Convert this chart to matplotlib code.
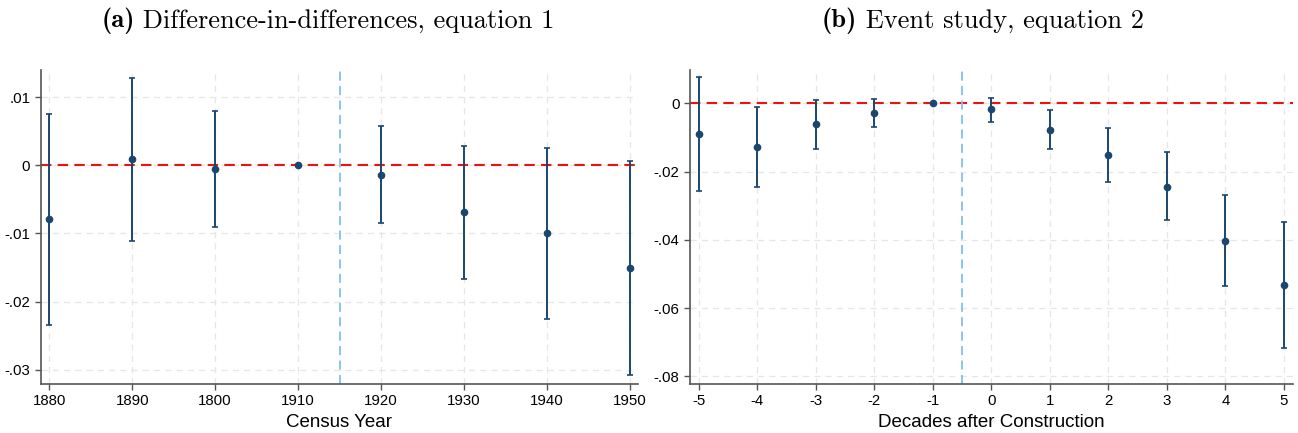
import matplotlib
matplotlib.use("Agg")
import matplotlib.pyplot as plt
import numpy as np

# ---------------- data ----------------
# Panel (a): difference-in-differences
a_labels = ["1880", "1890", "1800", "1910", "1920", "1930", "1940", "1950"]
a_coef = [-0.0079, 0.0009, -0.0006, 0.0, -0.0014, -0.0069, -0.0100, -0.0151]
a_hi = [0.0075, 0.0129, 0.0080, 0.0, 0.0058, 0.0028, 0.0026, 0.0006]
a_lo = [-0.0234, -0.0111, -0.0091, 0.0, -0.0085, -0.0167, -0.0226, -0.0308]
a_yticks = [0.01, 0.0, -0.01, -0.02, -0.03]
a_yticklabels = [".01", "0", "-.01", "-.02", "-.03"]

# Panel (b): event study
b_x = [-5, -4, -3, -2, -1, 0, 1, 2, 3, 4, 5]
b_coef = [-0.0090, -0.0129, -0.0060, -0.0028, 0.0, -0.0018, -0.0078, -0.0151, -0.0244, -0.0403, -0.0533]
b_hi = [0.0076, -0.0012, 0.0011, 0.0013, 0.0, 0.0017, -0.0020, -0.0073, -0.0144, -0.0269, -0.0349]
b_lo = [-0.0256, -0.0246, -0.0133, -0.0070, 0.0, -0.0054, -0.0135, -0.0229, -0.0343, -0.0536, -0.0716]
b_yticks = [0.0, -0.02, -0.04, -0.06, -0.08]
b_yticklabels = ["0", "-.02", "-.04", "-.06", "-.08"]

# ---------------- style ----------------
plt.rcParams["font.family"] = ["Liberation Sans", "DejaVu Sans"]
NAVY = "#1a476f"
RED = "#ee1111"
LBLUE = "#7fbfef"
SPINE = "#555555"
GRID = "#e6e6e6"

fig = plt.figure(figsize=(12.98, 4.33), dpi=100)
ax1 = fig.add_axes([0.0314, 0.1132, 0.4601, 0.7251])
ax2 = fig.add_axes([0.5316, 0.1132, 0.4643, 0.7251])


def style(ax):
    for s in ["top", "right"]:
        ax.spines[s].set_visible(False)
    for s in ["left", "bottom"]:
        ax.spines[s].set_color(SPINE)
        ax.spines[s].set_linewidth(1.2)
    ax.tick_params(axis="both", colors=SPINE, labelcolor="black", labelsize=10.8,
                   length=4, width=1.0, direction="out")
    ax.grid(True, color=GRID, linestyle=(0, (5, 4)), linewidth=0.9)
    ax.set_axisbelow(True)


def draw(ax, x, coef, lo, hi):
    coef = np.asarray(coef)
    yerr = np.vstack([coef - np.asarray(lo), np.asarray(hi) - coef])
    ax.errorbar(x, coef, yerr=yerr, fmt="none", ecolor=NAVY, elinewidth=1.4,
                capsize=2.5, capthick=1.2, zorder=3)
    ax.plot(x, coef, "o", color=NAVY, markersize=4.5, zorder=4)


# Panel (a)
style(ax1)
xa = np.arange(len(a_labels))
ax1.axhline(0, color=RED, linestyle=(0, (5, 3)), linewidth=1.5, zorder=2)
ax1.axvline(3.5, color=LBLUE, linestyle=(0, (5, 3)), linewidth=1.3, zorder=2)
draw(ax1, xa, a_coef, a_lo, a_hi)
ax1.set_xticks(xa)
ax1.set_xticklabels(a_labels)
ax1.set_yticks(a_yticks)
ax1.set_yticklabels(a_yticklabels)
ax1.set_xlim(-0.104, 7.1)
ax1.set_ylim(-0.0321, 0.0140)
ax1.set_xlabel("Census Year", fontsize=13.5, labelpad=4)

# Panel (b)
style(ax2)
ax2.axhline(0, color=RED, linestyle=(0, (5, 3)), linewidth=1.5, zorder=2)
ax2.axvline(-0.5, color=LBLUE, linestyle=(0, (5, 3)), linewidth=1.3, zorder=2)
draw(ax2, b_x, b_coef, b_lo, b_hi)
ax2.set_xticks(b_x)
ax2.set_xticklabels([str(v) for v in b_x])
ax2.set_yticks(b_yticks)
ax2.set_yticklabels(b_yticklabels)
ax2.set_xlim(-5.15, 5.15)
ax2.set_ylim(-0.0822, 0.00975)
ax2.set_xlabel("Decades after Construction", fontsize=13.5, labelpad=4)

# Titles: bold "(a)" in cmb10, rest in cmr10, centred as a whole
fig.canvas.draw()
renderer = fig.canvas.get_renderer()
TSIZE = 19
TY = 0.952


def title(center_px, bold, rest):
    t1 = fig.text(0, TY, bold, family="cmb10", fontsize=TSIZE, va="center", ha="left")
    t2 = fig.text(0, TY, " " + rest, family="cmr10", fontsize=TSIZE, va="center", ha="left")
    w1 = t1.get_window_extent(renderer).width
    w2 = t2.get_window_extent(renderer).width
    x0 = center_px - (w1 + w2) / 2
    t1.set_x(x0 / fig.bbox.width)
    t2.set_x((x0 + w1) / fig.bbox.width)


title(328, "(a)", "Difference-in-differences, equation 1")
title(983, "(b)", "Event study, equation 2")

fig.savefig("out.png", dpi=100)
